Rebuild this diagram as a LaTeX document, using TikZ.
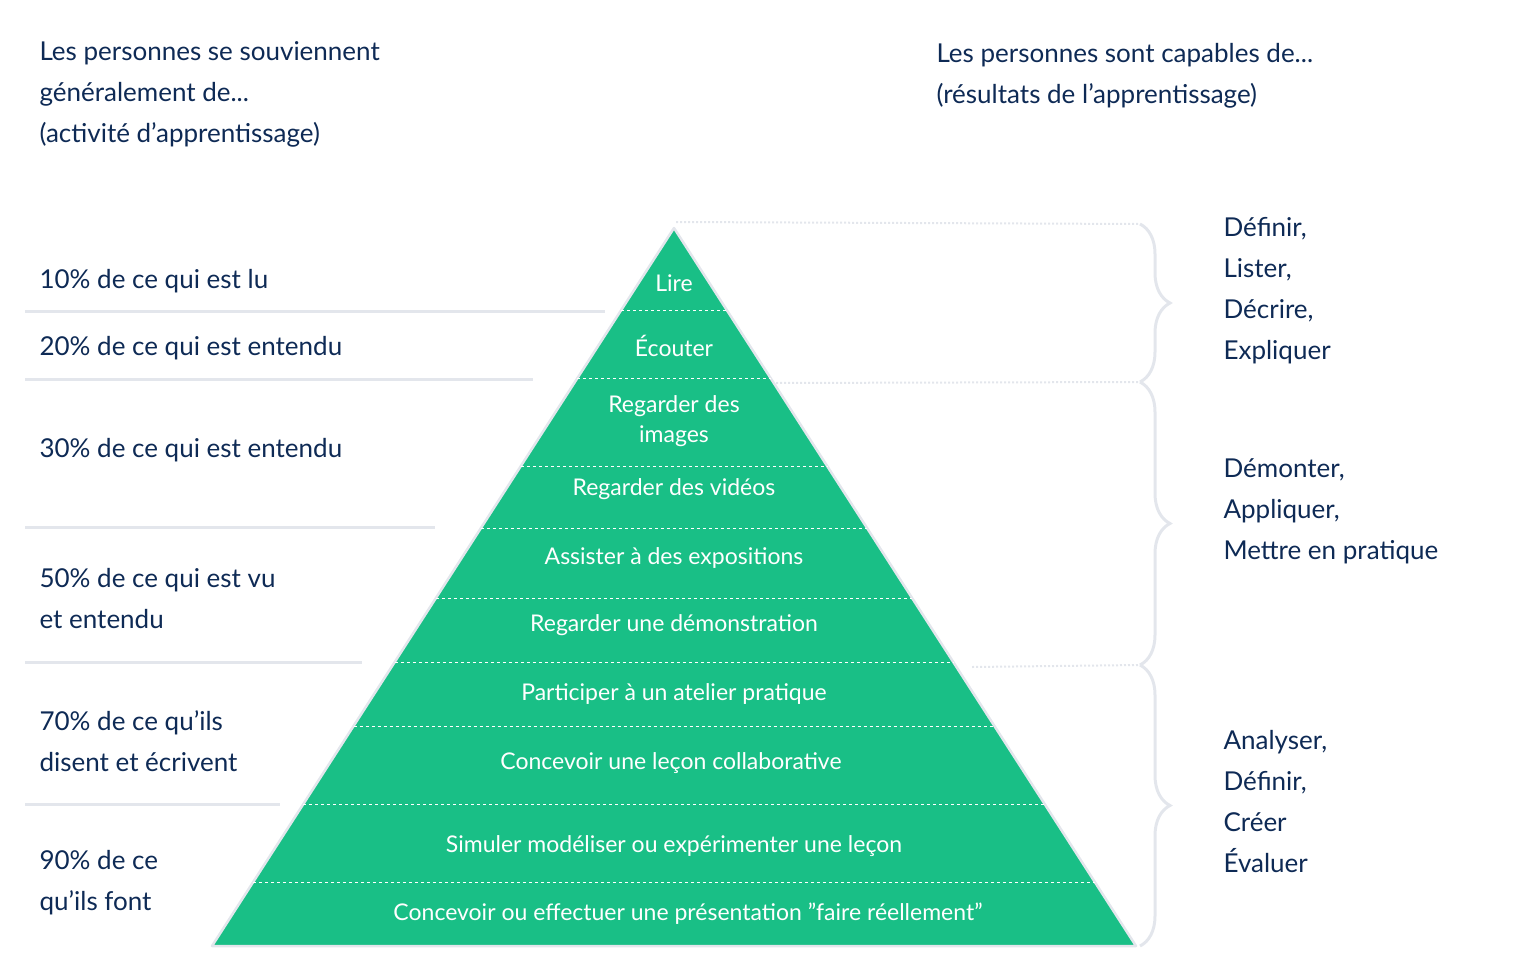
\documentclass[tikz,border=0pt]{standalone}
\usepackage{fontspec}
\setmainfont{Lato}
\usetikzlibrary{decorations.pathreplacing}
\definecolor{navy}{HTML}{0E2A55}
\definecolor{pgreen}{HTML}{19BF86}
\definecolor{lgray}{HTML}{E3E6EC}
\begin{document}
\begin{tikzpicture}[x=1pt,y=-1pt,
  lt/.style={anchor=west,text=navy,font=\fontsize{26}{41}\selectfont,align=left},
  pt/.style={text=white,font=\fontsize{23}{30}\selectfont,align=center},
  sep/.style={lgray,line width=3pt},
  dl/.style={white,dashed,line width=1pt},
  br/.style={lgray,line width=3pt,decorate,decoration={brace,amplitude=30pt,aspect=0.5}},
  dot/.style={lgray,line width=2pt,dotted}]
\useasboundingbox (0,0) rectangle (1534,977);
\coordinate (A) at (674,228);
\coordinate (BL) at (212,946);
\coordinate (BR) at (1136,946);
\fill[pgreen] (A)--(BL)--(BR)--cycle;
\draw[lgray,line width=2.5pt,line join=round] (A)--(BL)--(BR)--cycle;
\foreach \y in {310,378,466,528,598,662,726,804,882}{
  \pgfmathsetmacro{\h}{(\y-228)/718*462}
  \draw[dl] (674-\h,\y)--(674+\h,\y);}
\node[pt] (p1) at (674,283) {Lire};
\node[pt] (p2) at (674,346) {Écouter};
\node[pt,font=\fontsize{23}{30}\selectfont] (p3) at (674,421) {Regarder des\\images};
\node[pt] (p4) at (674,489) {Regarder des vidéos};
\node[pt] (p5) at (674,558) {Assister à des expositions};
\node[pt] (p6) at (674,625) {Regarder une démonstration};
\node[pt] (p7) at (674,694) {Participer à un atelier pratique};
\node[pt] (p8) at (671,763) {Concevoir une leçon collaborative};
\node[pt] (p9) at (674,846) {Simuler modéliser ou expérimenter une leçon};
\node[pt] (p10) at (688,914) {Concevoir ou effectuer une présentation "faire réellement"};
\node[lt,anchor=north west] (h1) at (36,38) {Les personnes se souviennent\\généralement de...\\(activité d'apprentissage)};
\node[lt,anchor=north west] (h2) at (933,40) {Les personnes sont capables de...\\(résultats de l'apprentissage)};
\node[lt] (l1) at (36,281) {10\% de ce qui est lu};
\node[lt] (l2) at (36,348) {20\% de ce qui est entendu};
\node[lt] (l3) at (36,450) {30\% de ce qui est entendu};
\node[lt] (l4) at (36,599) {50\% de ce qui est vu\\et entendu};
\node[lt] (l5) at (36,741) {70\% de ce qu'ils\\disent et écrivent};
\node[lt] (l6) at (36,883) {90\% de ce\\qu'ils font};
\draw[sep] (25,311)--(605,311);
\draw[sep] (25,379)--(533,379);
\draw[sep] (25,527)--(435,527);
\draw[sep] (25,662)--(362,662);
\draw[sep] (25,804)--(280,804);
\node[lt] (r1) at (1220,291) {Définir,\\Lister,\\Décrire,\\Expliquer};
\node[lt] (r2) at (1220,511) {Démonter,\\Appliquer,\\Mettre en pratique};
\node[lt] (r3) at (1220,802) {Analyser,\\Définir,\\Créer\\Évaluer};
\coordinate (b0) at (1140,224);
\coordinate (b1) at (1140,382);
\coordinate (b2) at (1140,665);
\coordinate (b3) at (1140,946);
\draw[br] (b0)--(b1);
\draw[br] (b1)--(b2);
\draw[br] (b2)--(b3);
\coordinate (d1) at (776,383);
\coordinate (d2) at (972,667);
\coordinate (d0) at (676,222);
\draw[dot] (d0)--(b0);
\draw[dot] (d1)--(b1);
\draw[dot] (d2)--(b2);
\end{tikzpicture}
\end{document}
